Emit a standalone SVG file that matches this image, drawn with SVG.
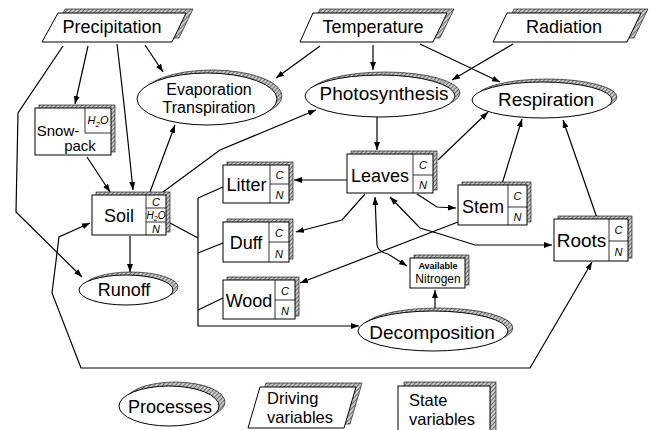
<svg xmlns="http://www.w3.org/2000/svg" width="655" height="430" viewBox="0 0 655 430">
<defs>
<pattern id="hatch" width="3" height="3" patternUnits="userSpaceOnUse" patternTransform="rotate(45)">
<rect width="3" height="3" fill="#c8c8c8"/>
<line x1="0" y1="0" x2="0" y2="3" stroke="#333" stroke-width="1.2"/>
</pattern>
<marker id="arr" markerUnits="userSpaceOnUse" markerWidth="8" markerHeight="6" refX="8" refY="3" orient="auto-start-reverse">
<path d="M0,0 L8,3 L0,6 z" fill="#000"/>
</marker>
</defs>
<style>
.lbl{font-family:"Liberation Sans",Arial,sans-serif;font-size:18px;fill:#000;text-anchor:middle}
.ev{font-size:16px}
.big{font-size:19px}
.sm{font-size:15px}
.leg{font-size:16.5px;text-anchor:start}
.cell{font-family:"Liberation Sans",Arial,sans-serif;font-size:11px;font-style:italic;fill:#000;text-anchor:middle}
.front{fill:#fff;stroke:#000;stroke-width:1}
.back{fill:url(#hatch);stroke:#000;stroke-width:0.6}
.div{fill:none;stroke:#000;stroke-width:0.8}
.c{fill:none;stroke:#000;stroke-width:1.2}
.ca{fill:none;stroke:#000;stroke-width:1.2;marker-end:url(#arr)}
.cb{fill:none;stroke:#000;stroke-width:1.2;marker-start:url(#arr);marker-end:url(#arr)}
</style>
<rect width="655" height="430" fill="#fff"/>

<g id="connectors">
<path class="ca" d="M63,46 L18,113 L16,212 L82,277"/>
<path class="ca" d="M88,46 L75,104"/>
<path class="ca" d="M117,44 Q125,110 133,190"/>
<path class="ca" d="M145,45 L163,72"/>
<path class="ca" d="M320,46 L276,78"/>
<path class="ca" d="M373,45 L373,70"/>
<path class="ca" d="M420,44 L500,82"/>
<path class="ca" d="M513,44 L452,80"/>
<path class="ca" d="M377,117 L377,150"/>
<path class="ca" d="M87,157 L110,192"/>
<path class="ca" d="M150,192 L175,125"/>
<path class="ca" d="M163,192 L220,150 L316,110"/>
<path class="ca" d="M130,236 L130,272"/>
<path class="c" d="M170,223 L198,238"/>
<path class="ca" d="M198,198 L198,326 L359,326"/>
<path class="c" d="M198,198 L223,187"/>
<path class="c" d="M198,253 L223,243"/>
<path class="c" d="M198,310 L223,298"/>
<path class="ca" d="M347,180 L294,180"/>
<path class="ca" d="M365,194 L342,220 L296,232"/>
<path class="ca" d="M458,222 L300,283"/>
<path class="ca" d="M417,194 L437,207 L456,208"/>
<path class="cb" d="M390,197 L420,228 L440,234 L475,245 L552,245"/>
<path class="cb" d="M375,197 L377,245 Q378,252 388,254 L407,266"/>
<path class="ca" d="M435,311 L435,290"/>
<path class="ca" d="M502,184 L522,119"/>
<path class="ca" d="M438,160 L488,112"/>
<path class="ca" d="M597,218 L563,120"/>
<path class="cb" d="M592,262 L530,368 L81,368 L52,293 L59,237 L90,223"/>
</g>

<g id="precipitation">
<polygon class="back" points="65,9 193,9 179,38 51,38"/>
<polygon class="front" points="58,13 186,13 172,42 42,42"/>
<text class="lbl" x="112" y="33">Precipitation</text>
</g>
<g id="temperature">
<polygon class="back" points="320,9 454,9 440,38 306,38"/>
<polygon class="front" points="313,13 447,13 433,42 300,42"/>
<text class="lbl" x="373" y="33">Temperature</text>
</g>
<g id="radiation">
<polygon class="back" points="514,9 648,9 634,38 500,38"/>
<polygon class="front" points="507,13 641,13 627,42 493,42"/>
<text class="lbl" x="564" y="33">Radiation</text>
</g>

<g id="evaporation">
<ellipse class="back" cx="212" cy="96" rx="70" ry="26"/>
<ellipse class="front" cx="207" cy="99" rx="70" ry="26"/>
<text class="lbl ev" x="209" y="95">Evaporation</text>
<text class="lbl ev" x="209" y="113">Transpiration</text>
</g>
<g id="photosynthesis">
<ellipse class="back" cx="385" cy="93" rx="75" ry="21"/>
<ellipse class="front" cx="380" cy="96" rx="75" ry="21"/>
<text class="lbl big" x="384" y="100">Photosynthesis</text>
</g>
<g id="respiration">
<ellipse class="back" cx="547" cy="97" rx="70" ry="18"/>
<ellipse class="front" cx="542" cy="100" rx="70" ry="18"/>
<text class="lbl big" x="546" y="106">Respiration</text>
</g>
<g id="runoff">
<ellipse class="back" cx="131" cy="287" rx="47" ry="15"/>
<ellipse class="front" cx="126" cy="290" rx="47" ry="15"/>
<text class="lbl" x="124" y="296">Runoff</text>
</g>
<g id="decomposition">
<ellipse class="back" cx="438" cy="328" rx="75" ry="20"/>
<ellipse class="front" cx="433" cy="331" rx="75" ry="20"/>
<text class="lbl big" x="432" y="339">Decomposition</text>
</g>

<g id="snowpack">
<rect class="back" x="39" y="105" width="76" height="47"/>
<rect class="front" x="35" y="108" width="76" height="47"/>
<path class="div" d="M85,108 L85,133 L111,133"/>
<text class="cell" x="98" y="124">H<tspan style="font-size:8px" dy="3">2</tspan><tspan dy="-3">O</tspan></text>
<text class="lbl sm" x="58" y="136">Snow-</text>
<text class="lbl sm" x="80" y="151">pack</text>
</g>
<g id="soil">
<rect class="back" x="96" y="192" width="74" height="40"/>
<rect class="front" x="92" y="195" width="74" height="40"/>
<path class="div" d="M146,195 L146,235 M146,208 L166,208 M146,222 L166,222"/>
<text class="cell" x="156" y="206">C</text>
<text class="cell" x="156" y="219" style="font-size:10px">H<tspan style="font-size:7px" dy="2">2</tspan><tspan dy="-2">O</tspan></text>
<text class="cell" x="156" y="233">N</text>
<text class="lbl" x="119" y="222">Soil</text>
</g>
<g id="litter">
<rect class="back" x="227" y="162" width="66" height="38"/>
<rect class="front" x="223" y="165" width="66" height="38"/>
<path class="div" d="M270,165 L270,203 M270,184 L289,184"/>
<text class="cell" x="279.5" y="179">C</text>
<text class="cell" x="279.5" y="199">N</text>
<text class="lbl" x="246.5" y="191">Litter</text>
</g>
<g id="duff">
<rect class="back" x="227" y="219" width="66" height="40"/>
<rect class="front" x="223" y="222" width="66" height="40"/>
<path class="div" d="M269,222 L269,262 M269,242 L289,242"/>
<text class="cell" x="279" y="237">C</text>
<text class="cell" x="279" y="258">N</text>
<text class="lbl" x="246" y="249">Duff</text>
</g>
<g id="wood">
<rect class="back" x="227" y="277" width="72" height="39"/>
<rect class="front" x="223" y="280" width="72" height="39"/>
<path class="div" d="M275,280 L275,319 M275,300 L295,300"/>
<text class="cell" x="285" y="295">C</text>
<text class="cell" x="285" y="315">N</text>
<text class="lbl" x="249" y="307">Wood</text>
</g>
<g id="leaves">
<rect class="back" x="351" y="151" width="86" height="39"/>
<rect class="front" x="347" y="154" width="86" height="39"/>
<path class="div" d="M413,154 L413,193 M413,175 L433,175"/>
<text class="cell" x="423" y="169">C</text>
<text class="cell" x="423" y="189">N</text>
<text class="lbl" x="380" y="182">Leaves</text>
</g>
<g id="stem">
<rect class="back" x="462" y="182" width="69" height="40"/>
<rect class="front" x="458" y="185" width="69" height="40"/>
<path class="div" d="M508,185 L508,225 M508,207 L527,207"/>
<text class="cell" x="517.5" y="200">C</text>
<text class="cell" x="517.5" y="221">N</text>
<text class="lbl" x="483" y="213">Stem</text>
</g>
<g id="roots">
<rect class="back" x="558" y="216" width="74" height="42"/>
<rect class="front" x="554" y="219" width="74" height="42"/>
<path class="div" d="M609,219 L609,261 M609,241 L628,241"/>
<text class="cell" x="618.5" y="234">C</text>
<text class="cell" x="618.5" y="256">N</text>
<text class="lbl big" x="581.5" y="247">Roots</text>
</g>
<g id="nitrogen">
<rect class="back" x="414" y="255" width="55" height="30"/>
<rect class="front" x="410" y="258" width="55" height="30"/>
<text class="lbl" x="438" y="269" style="font-size:9px;font-weight:bold">Available</text>
<text class="lbl" x="438" y="283" style="font-size:12px">Nitrogen</text>
</g>

<g id="legend-processes">
<ellipse class="back" cx="175" cy="402" rx="50" ry="20"/>
<ellipse class="front" cx="169" cy="406" rx="50" ry="20"/>
<text class="lbl" x="170" y="413">Processes</text>
</g>
<g id="legend-driving">
<polygon class="back" points="266,383 362,383 350,424 254,424"/>
<polygon class="front" points="260,387 356,387 344,428 248,428"/>
<text class="lbl leg" x="267" y="404">Driving</text>
<text class="lbl leg" x="267" y="423">variables</text>
</g>
<g id="legend-state">
<rect class="back" x="404" y="382" width="92" height="50"/>
<rect class="front" x="398" y="386" width="92" height="50"/>
<text class="lbl leg" x="409" y="406">State</text>
<text class="lbl leg" x="409" y="425">variables</text>
</g>
</svg>
